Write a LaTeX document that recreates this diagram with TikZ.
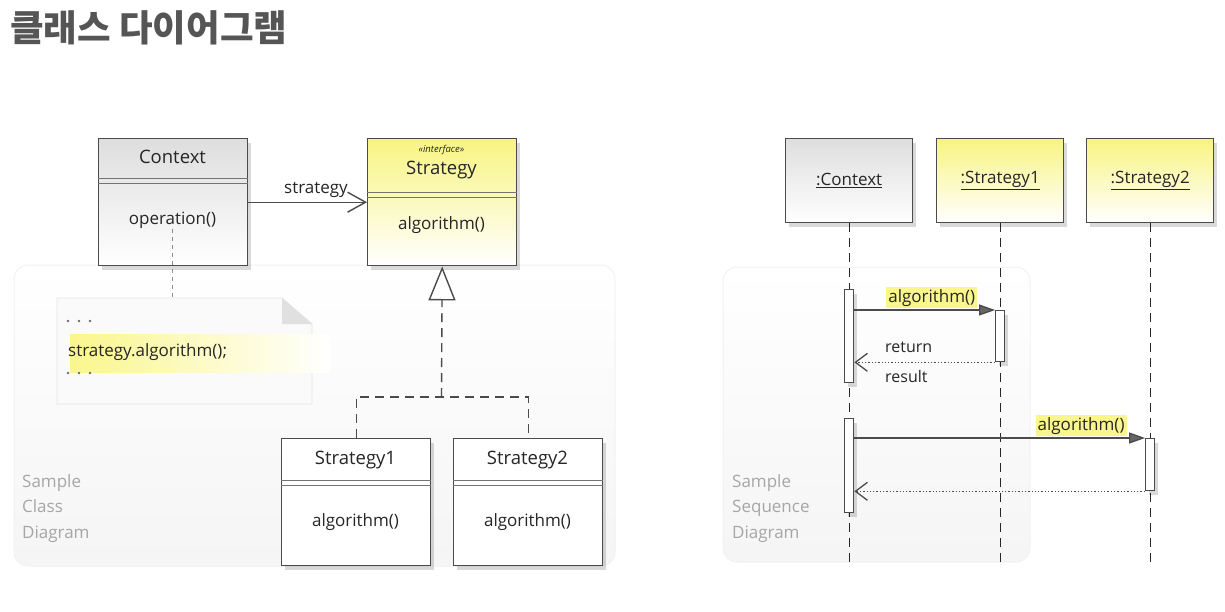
\documentclass[tikz,border=0pt]{standalone}
\usepackage{fontspec}
\setmainfont{Open Sans}
\newfontfamily\krfont{Noto Sans CJK KR}
\usetikzlibrary{arrows.meta,shadows,calc}
\definecolor{ylw}{RGB}{248,244,130}
\definecolor{hl}{RGB}{250,246,140}
\definecolor{ttl}{RGB}{85,85,85}
\definecolor{ln}{RGB}{75,75,75}
\begin{document}
\begin{tikzpicture}[x=1pt,y=-1pt,
  font=\fontsize{18.5}{21}\selectfont,
  shd/.style={drop shadow={shadow xshift=3pt,shadow yshift=-4pt,opacity=0.15,fill=black}},
  box/.style={draw=ln,line width=1.4pt,inner sep=0pt,anchor=north west,shd},
  grayfill/.style={top color=black!13,bottom color=white},
  yellowfill/.style={top color=ylw,bottom color=white},
  cls/.style={box,minimum width=149pt,minimum height=127pt},
  obj/.style={box,minimum width=127pt,minimum height=84pt},
  sepl/.style={draw=black!55,line width=0.8pt},
  txt/.style={inner sep=1pt,text=black!85},
  panel/.style={rounded corners=14pt,top color=white,bottom color=black!4,draw=black!5,line width=1pt},
  panellbl/.style={anchor=north west,align=left,text=black!35,font=\fontsize{17}{25.5}\selectfont,inner sep=0pt},
  life/.style={draw=black!85,line width=1.3pt,dash pattern=on 9pt off 6pt},
  act/.style={draw=ln,line width=1.3pt,fill=white,minimum width=9pt,inner sep=0pt,anchor=north,shd},
  msg/.style={draw=ln,line width=1.3pt,-{Triangle[length=16pt,width=11pt,fill=black!60]}},
  ret/.style={draw=ln,line width=1.3pt,dotted,-{Straight Barb[length=12pt,width=18pt]}},
  hlabel/.style={fill=hl,inner sep=2pt,text=black!85,font=\fontsize{17}{20}\selectfont}
]
\useasboundingbox (0,0) rectangle (1225,611);
\fill[white] (0,0) rectangle (1225,611);

% title
\node[anchor=west,inner sep=0pt,text=ttl,font=\krfont\bfseries\fontsize{36.5}{42}\selectfont] (title) at (10,28) {클래스 다이어그램};

% panels
\path[panel] (14,265) rectangle (615,566);
\path[panel] (723,267) rectangle (1030,562);
\node[panellbl] (clsl) at (22,474) {Sample\\Class\\Diagram};
\node[panellbl] (seql) at (732,474) {Sample\\Sequence\\Diagram};

% ---------- class diagram ----------
\node[cls,grayfill] (ctx) at (98,138) {};
\node[txt] (ctxn) at (172.5,157) {Context};
\draw[sepl] ($(ctx.north west)+(0,40)$) -- ($(ctx.north east)+(0,40)$);
\draw[sepl] ($(ctx.north west)+(0,45)$) -- ($(ctx.north east)+(0,45)$);
\node[txt,font=\fontsize{17}{20}\selectfont] (op) at (172.5,220) {operation()};

\node[cls,yellowfill] (strat) at (367,138) {};
\node[txt,font=\itshape\fontsize{9.5}{10}\selectfont] (iface) at (441.5,150) {«interface»};
\node[txt] (stn) at (441.5,170) {Strategy};
\draw[sepl] ($(strat.north west)+(0,54)$) -- ($(strat.north east)+(0,54)$);
\draw[sepl] ($(strat.north west)+(0,59)$) -- ($(strat.north east)+(0,59)$);
\node[txt,font=\fontsize{17}{20}\selectfont] (stm) at (441.5,225) {algorithm()};

\draw[draw=ln,line width=1.4pt,-{Straight Barb[length=18pt,width=20pt]}] (ctx.east) -- (strat.west)
  node[pos=0.57,above=3pt,txt,font=\fontsize{17}{20}\selectfont] (asl) {strategy};

\node[cls,fill=white] (s1) at (281,438) {};
\node[txt] (s1n) at (355.5,460) {Strategy1};
\draw[sepl] ($(s1.north west)+(0,42)$) -- ($(s1.north east)+(0,42)$);
\draw[sepl] ($(s1.north west)+(0,47)$) -- ($(s1.north east)+(0,47)$);
\node[txt,font=\fontsize{17}{20}\selectfont] (s1m) at (355.5,522) {algorithm()};

\node[cls,fill=white] (s2) at (453,438) {};
\node[txt] (s2n) at (527.5,460) {Strategy2};
\draw[sepl] ($(s2.north west)+(0,42)$) -- ($(s2.north east)+(0,42)$);
\draw[sepl] ($(s2.north west)+(0,47)$) -- ($(s2.north east)+(0,47)$);
\node[txt,font=\fontsize{17}{20}\selectfont] (s2m) at (527.5,522) {algorithm()};

\coordinate (j) at (441.5,397);
\draw[draw=ln,line width=1.4pt,dash pattern=on 9pt off 6pt,-{Triangle[open,length=34pt,width=27pt,fill=white]}] (j) -- (strat.south);
\draw[draw=ln,line width=1.4pt,dash pattern=on 9pt off 6pt] (s1.north) |- (j) -| (s2.north);

% note
\path[fill=black!2,draw=black!10,line width=0.8pt] (57,298) -- (282,298) -- (312,324) -- (312,404) -- (57,404) -- cycle;
\fill[black!12] (282,298) -- (312,324) -- (282,324) -- cycle;
\fill[left color=hl,right color=white] (70,334) rectangle (330,372);
\node[anchor=west,inner sep=0pt,text=black!55,font=\bfseries\fontsize{14}{16}\selectfont] (d1) at (66,322) {.\,\,\,.\,\,\,.};
\node[anchor=west,inner sep=0pt,text=black!85,font=\fontsize{17}{20}\selectfont] (code) at (68,352) {strategy.algorithm();};
\node[anchor=west,inner sep=0pt,text=black!55,font=\bfseries\fontsize{14}{16}\selectfont] (d2) at (66,374) {.\,\,\,.\,\,\,.};
\coordinate (notetop) at (172.5,298);
\draw[black!45,line width=1pt,dash pattern=on 4pt off 4pt] (op.south) -- (notetop);

% ---------- sequence diagram ----------
\node[obj,grayfill] (oc) at (785,138) {};
\node[txt,font=\fontsize{17}{20}\selectfont] (ocn) at (oc.center) {\underline{:Context}};
\node[obj,yellowfill] (o1) at (936,138) {};
\node[txt,font=\fontsize{17}{20}\selectfont] (o1n) at (o1.center) {\underline{:Strategy1}};
\node[obj,yellowfill] (o2) at (1086,138) {};
\node[txt,font=\fontsize{17}{20}\selectfont] (o2n) at (o2.center) {\underline{:Strategy2}};

\coordinate (ocb) at (oc.south |- 0,567);
\coordinate (o1b) at (o1.south |- 0,567);
\coordinate (o2b) at (o2.south |- 0,567);
\draw[life] (oc.south) -- (ocb);
\draw[life] (o1.south) -- (o1b);
\draw[life] (o2.south) -- (o2b);

\node[act,minimum height=93pt] (ac1) at (oc.south |- 0,289) {};
\node[act,minimum height=94pt] (ac2) at (oc.south |- 0,418) {};
\node[act,minimum height=51pt] (a1) at (o1.south |- 0,310) {};
\node[act,minimum height=52pt] (a2) at (o2.south |- 0,438) {};

\draw[msg] (ac1.east |- a1.north) -- (a1.north west)
  node[pos=0.55,above=1pt,hlabel] (m1) {algorithm()};
\draw[ret] (a1.south west) -- (ac1.east |- a1.south);
\node[txt,anchor=west,font=\fontsize{16}{19}\selectfont] (rt) at (884,347) {return};
\node[txt,anchor=west,font=\fontsize{16}{19}\selectfont] (rs) at (884,376) {result};

\draw[msg] (ac2.east |- a2.north) -- (a2.north west)
  node[pos=0.78,above=1pt,hlabel] (m2) {algorithm()};
\draw[ret] (a2.south west) -- (ac2.east |- a2.south);
\end{tikzpicture}
\end{document}
